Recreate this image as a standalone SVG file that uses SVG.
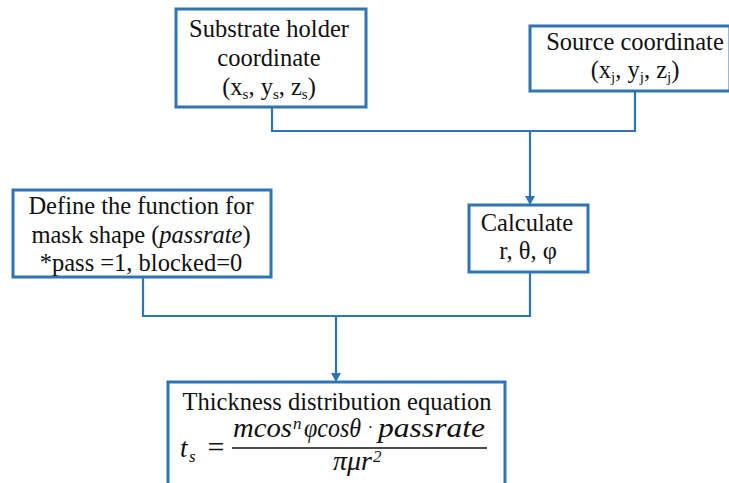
<svg xmlns="http://www.w3.org/2000/svg" width="729" height="483" viewBox="0 0 729 483">
<style>
.box{fill:#fff;stroke:#2E75B6;stroke-width:3}
.t{font-family:'Liberation Serif','Tinos','Times New Roman','DejaVu Serif','Noto Serif',serif;font-size:24.5px;fill:#111;text-anchor:middle}
.m{font-family:'Liberation Serif','Tinos','Times New Roman','DejaVu Serif','Noto Serif',serif;font-style:italic;font-size:27px;fill:#111}
.ms{font-family:'Liberation Serif','Tinos','Times New Roman','DejaVu Serif','Noto Serif',serif;font-style:italic;font-size:17px;fill:#111}
.sub{font-size:15px}
.c{fill:none;stroke:#2E75B6;stroke-width:2.2}
.ah{fill:#2E75B6}
</style>
<rect width="729" height="483" fill="#fff"/>
<g id="connectors">
<polyline class="c" points="272,107 272,131 635,131"/>
<polyline class="c" points="635,91 635,131 530,131"/>
<line class="c" x1="530" y1="131" x2="530" y2="197"/>
<path class="ah" d="M525,196 L535,196 L530,205 z"/>
<polyline class="c" points="143,277 143,316 530,316 530,272"/>
<line class="c" x1="336" y1="316" x2="336" y2="374"/>
<path class="ah" d="M331,373 L341,373 L336,382 z"/>
</g>
<g id="substrate">
<rect class="box" x="176" y="9" width="190" height="98"/>
<text class="t" x="269" y="37">Substrate holder</text>
<text class="t" x="269" y="66">coordinate</text>
<text class="t" x="269" y="95">(x<tspan class="sub" dy="4">s</tspan><tspan dy="-4">, y</tspan><tspan class="sub" dy="4">s</tspan><tspan dy="-4">, z</tspan><tspan class="sub" dy="4">s</tspan><tspan dy="-4">)</tspan></text>
</g>
<g id="source">
<rect class="box" x="530" y="26" width="200" height="65"/>
<text class="t" x="635" y="50">Source coordinate</text>
<text class="t" x="635" y="78">(x<tspan class="sub" dy="4">j</tspan><tspan dy="-4">, y</tspan><tspan class="sub" dy="4">j</tspan><tspan dy="-4">, z</tspan><tspan class="sub" dy="4">j</tspan><tspan dy="-4">)</tspan></text>
</g>
<g id="mask">
<rect class="box" x="13" y="190" width="258" height="87"/>
<text class="t" x="141" y="214">Define the function for</text>
<text class="t" x="141" y="243">mask shape (<tspan font-style="italic">passrate</tspan>)</text>
<text class="t" x="141" y="271">*pass =1, blocked=0</text>
</g>
<g id="calculate">
<rect class="box" x="469" y="205" width="119" height="67"/>
<text class="t" x="527" y="231">Calculate</text>
<text class="t" x="528" y="259">r, θ, φ</text>
</g>
<g id="thickness">
<rect class="box" x="168" y="382" width="337" height="110"/>
<text class="t" x="337" y="410">Thickness distribution equation</text>
<text class="m" x="180" y="457">t</text>
<text class="ms" x="189" y="462">s</text>
<text class="t" x="216" y="457" style="font-size:30px">=</text>
<line x1="232" y1="448" x2="487" y2="448" stroke="#111" stroke-width="1.6"/>
<text class="m" x="233" y="437" textLength="59" lengthAdjust="spacingAndGlyphs">mcos</text>
<text class="ms" x="293" y="429">n</text>
<text class="m" x="304" y="437" textLength="57" lengthAdjust="spacingAndGlyphs">φcosθ</text>
<text class="t" x="370.5" y="433" style="font-size:16px">·</text>
<text class="m" x="378" y="437" textLength="107" lengthAdjust="spacingAndGlyphs">passrate</text>
<text class="m" x="333" y="470" textLength="39" lengthAdjust="spacingAndGlyphs">πμr</text>
<text class="ms" x="373" y="462">2</text>
</g>
</svg>
